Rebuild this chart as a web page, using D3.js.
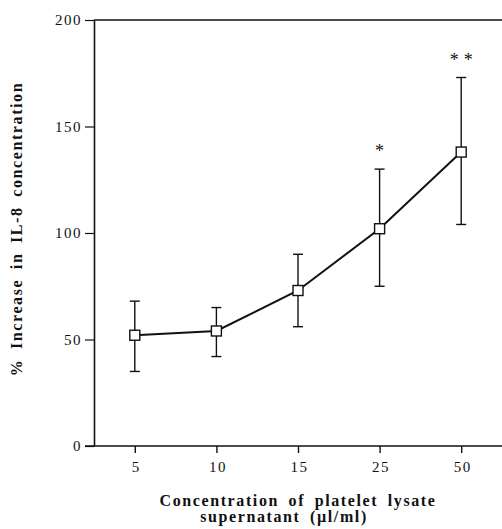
<!DOCTYPE html>
<html>
<head>
<meta charset="utf-8">
<script src="https://cdn.jsdelivr.net/npm/d3@7"></script>
<style>
	body { margin: 0; background: #fff; }
	svg text { font-family: "Liberation Serif", "DejaVu Serif", serif; fill: #111; }
	.axis path, .axis line { stroke: #111; }
	.axis text { font-size: 15px; letter-spacing: 1.5px; }
	.title { font-size: 16px; font-weight: bold; letter-spacing: 1.6px; word-spacing: 4px; }
</style>
</head>
<body>
<div id="graphic"></div>
<script>
// data
var concentrations = ['5', '10', '15', '25', '50'];
var meanIncrease = [52, 54, 73, 102, 138];
var upperError = [68, 65, 90, 130, 173];
var lowerError = [35, 42, 56, 75, 104];
var significance = ['', '', '', '*', '**'];
var yTicks = [0, 50, 100, 150, 200];

var width = 502, height = 529;
var margins = {top: 20, right: 0, bottom: 83, left: 94};
var chartWidth = width - margins.left - margins.right;
var chartHeight = height - margins.top - margins.bottom;

var svg = d3.select('#graphic').append('svg')
	.attr('width', width)
	.attr('height', height);

var chart = svg.append('g')
	.attr('transform', 'translate(' + margins.left + ',' + margins.top + ')');

var x = d3.scalePoint().domain(concentrations).range([0, chartWidth]).padding(0.5);
var y = d3.scaleLinear().domain([0, 200]).range([chartHeight, 0]);

// top frame line
chart.append('line')
	.attr('x1', 0).attr('x2', chartWidth)
	.attr('y1', y(200)).attr('y2', y(200))
	.attr('stroke', '#111').attr('stroke-width', 1.3);

// axes
chart.append('g')
	.attr('class', 'axis axis-y')
	.call(d3.axisLeft(y).tickValues(yTicks).tickSize(9).tickSizeOuter(0).tickPadding(3))
	.call(function(g) {
		g.select('.domain').attr('stroke-width', 1.6);
		g.selectAll('.tick line').attr('stroke-width', 1.2);
	});

chart.append('g')
	.attr('class', 'axis axis-x')
	.attr('transform', 'translate(0,' + chartHeight + ')')
	.call(d3.axisBottom(x).tickSize(7).tickSizeOuter(0).tickPadding(8))
	.call(function(g) {
		g.select('.domain').attr('d', 'M-9,0H' + chartWidth).attr('stroke-width', 1.4);
		g.selectAll('.tick line').attr('stroke-width', 1.4);
		g.selectAll('.tick text').attr('dx', 1);
	});

var data = concentrations.map(function(c, i) {
	return {c: c, mean: meanIncrease[i], hi: upperError[i], lo: lowerError[i], sig: significance[i]};
});

// error bars
var bars = chart.append('g').selectAll('g.err')
	.data(data).enter().append('g')
	.attr('class', 'err')
	.attr('stroke', '#111')
	.attr('stroke-width', 1.4);

bars.append('line')
	.attr('x1', function(d) { return x(d.c); })
	.attr('x2', function(d) { return x(d.c); })
	.attr('y1', function(d) { return y(d.hi); })
	.attr('y2', function(d) { return y(d.lo); });
bars.append('line')
	.attr('x1', function(d) { return x(d.c) - 5; })
	.attr('x2', function(d) { return x(d.c) + 5; })
	.attr('y1', function(d) { return y(d.hi); })
	.attr('y2', function(d) { return y(d.hi); });
bars.append('line')
	.attr('x1', function(d) { return x(d.c) - 5; })
	.attr('x2', function(d) { return x(d.c) + 5; })
	.attr('y1', function(d) { return y(d.lo); })
	.attr('y2', function(d) { return y(d.lo); });

// mean line
var line = d3.line()
	.x(function(d) { return x(d.c); })
	.y(function(d) { return y(d.mean); });

chart.append('path')
	.datum(data)
	.attr('d', line)
	.attr('fill', 'none')
	.attr('stroke', '#111')
	.attr('stroke-width', 2);

// squares
chart.append('g').selectAll('rect')
	.data(data).enter().append('rect')
	.attr('x', function(d) { return x(d.c) - 5; })
	.attr('y', function(d) { return y(d.mean) - 5; })
	.attr('width', 10)
	.attr('height', 10)
	.attr('fill', '#fff')
	.attr('stroke', '#111')
	.attr('stroke-width', 1.4);

// significance stars
chart.append('g').selectAll('text')
	.data(data.filter(function(d) { return d.sig; })).enter().append('text')
	.attr('x', function(d) { return x(d.c); })
	.attr('y', function(d) { return y(d.hi) - 12; })
	.attr('dx', 2.5)
	.attr('text-anchor', 'middle')
	.style('font-size', '18px')
	.style('letter-spacing', '5px')
	.text(function(d) { return d.sig; });

// titles
svg.append('text')
	.attr('class', 'title')
	.attr('transform', 'translate(22,229) rotate(-90)')
	.attr('text-anchor', 'middle')
	.text('% Increase in IL-8 concentration');

var xTitle = svg.append('text')
	.attr('class', 'title')
	.attr('text-anchor', 'middle');
xTitle.append('tspan')
	.attr('x', 298).attr('y', 506)
	.text('Concentration of platelet lysate');
xTitle.append('tspan')
	.attr('x', 284).attr('y', 522)
	.text('supernatant (\u00b5l/ml)');
</script>
</body>
</html>
